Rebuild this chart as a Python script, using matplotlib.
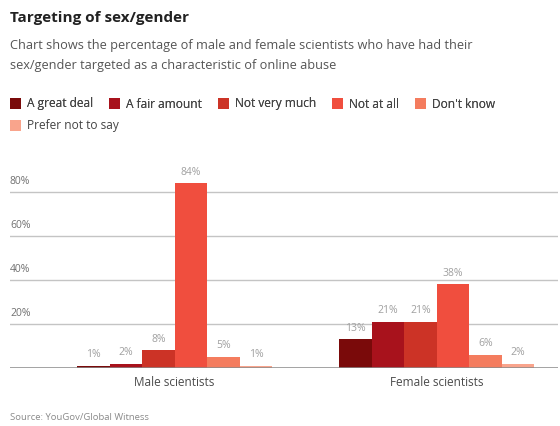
import matplotlib.pyplot as plt
import numpy as np
from matplotlib.patches import Patch

plt.rcParams['font.family'] = ['Open Sans', 'DejaVu Sans']

# datos
grupos = ["Male scientists", "Female scientists"]
respuestas = ["A great deal", "A fair amount", "Not very much",
              "Not at all", "Don't know", "Prefer not to say"]
hombres = [1, 2, 8, 84, 5, 1]
mujeres = [13, 21, 21, 38, 6, 2]
colores = ["#7a0a0a", "#a8121c", "#cc3326", "#f04e3e", "#f47c5e", "#f9a48c"]
ticks_y = [20, 40, 60, 80]

W, H = 560, 426
fig = plt.figure(figsize=(W / 100, H / 100), dpi=100)

# eje principal en coordenadas de pixel
izq, der, abajo, arriba = 10, 558, 368, 170
ax = fig.add_axes([izq / W, 1 - abajo / H, (der - izq) / W, (abajo - arriba) / H])

ancho = 0.124
x = np.arange(len(grupos))
valores = np.array([hombres, mujeres])
for i, resp in enumerate(respuestas):
    pos = x + (i - 2.5) * ancho
    ax.bar(pos, valores[:, i], width=ancho, color=colores[i], zorder=3)
    for xp, v in zip(pos, valores[:, i]):
        ax.annotate(f"{v}%", (xp, v), xytext=(0, 4), textcoords="offset points",
                    ha="center", va="bottom", fontsize=7.5, color="#a0a0a0", zorder=4)

ax.set_xlim(-0.628, 1.462)
ax.set_ylim(0, 90)
for t in ticks_y:
    ax.axhline(t, color="#c4c4c4", lw=1, zorder=1)
    ax.text(0.0, t + 2.5, f"{t}%", transform=ax.get_yaxis_transform(),
            ha="left", va="bottom", fontsize=7.5, color="#707070")
ax.axhline(0, color="#8a8a8a", lw=1.1, zorder=4)

ax.set_yticks([])
ax.set_xticks(x)
ax.set_xticklabels(grupos, fontsize=8.5, color="#4a4a4a")
ax.tick_params(axis="x", length=0, pad=6)
for s in ax.spines.values():
    s.set_visible(False)

# titulos
fig.text(10 / W, 1 - 18 / H, "Targeting of sex/gender", fontsize=11, fontweight="bold",
         color="#222222", va="center", ha="left")
fig.text(10 / W, 1 - 46 / H,
         "Chart shows the percentage of male and female scientists who have had their",
         fontsize=9.2, color="#555555", va="center", ha="left")
fig.text(10 / W, 1 - 66 / H,
         "sex/gender targeted as a characteristic of online abuse",
         fontsize=9.2, color="#555555", va="center", ha="left")

# leyenda en dos filas
handles = [Patch(facecolor=c, edgecolor="none") for c in colores]
estilo = dict(frameon=False, fontsize=8.6, handlelength=0.95, handleheight=0.95,
              handletextpad=0.5, columnspacing=1.3, borderaxespad=0, borderpad=0)
leg1 = fig.legend(handles[:5], respuestas[:5], loc="center left",
                  bbox_to_anchor=(10 / W, 1 - 104 / H), ncol=5, **estilo)
leg2 = fig.legend(handles[5:], respuestas[5:], loc="center left",
                  bbox_to_anchor=(10 / W, 1 - 126 / H), ncol=1, **estilo)
for leg in (leg1, leg2):
    for t in leg.get_texts():
        t.set_color("#444444")
fig.add_artist(leg1)

fig.text(10 / W, 1 - 418 / H, "Source: YouGov/Global Witness", fontsize=6.8,
         color="#8a8a8a", va="center", ha="left")

fig.savefig("out.png", dpi=100, facecolor="white")
